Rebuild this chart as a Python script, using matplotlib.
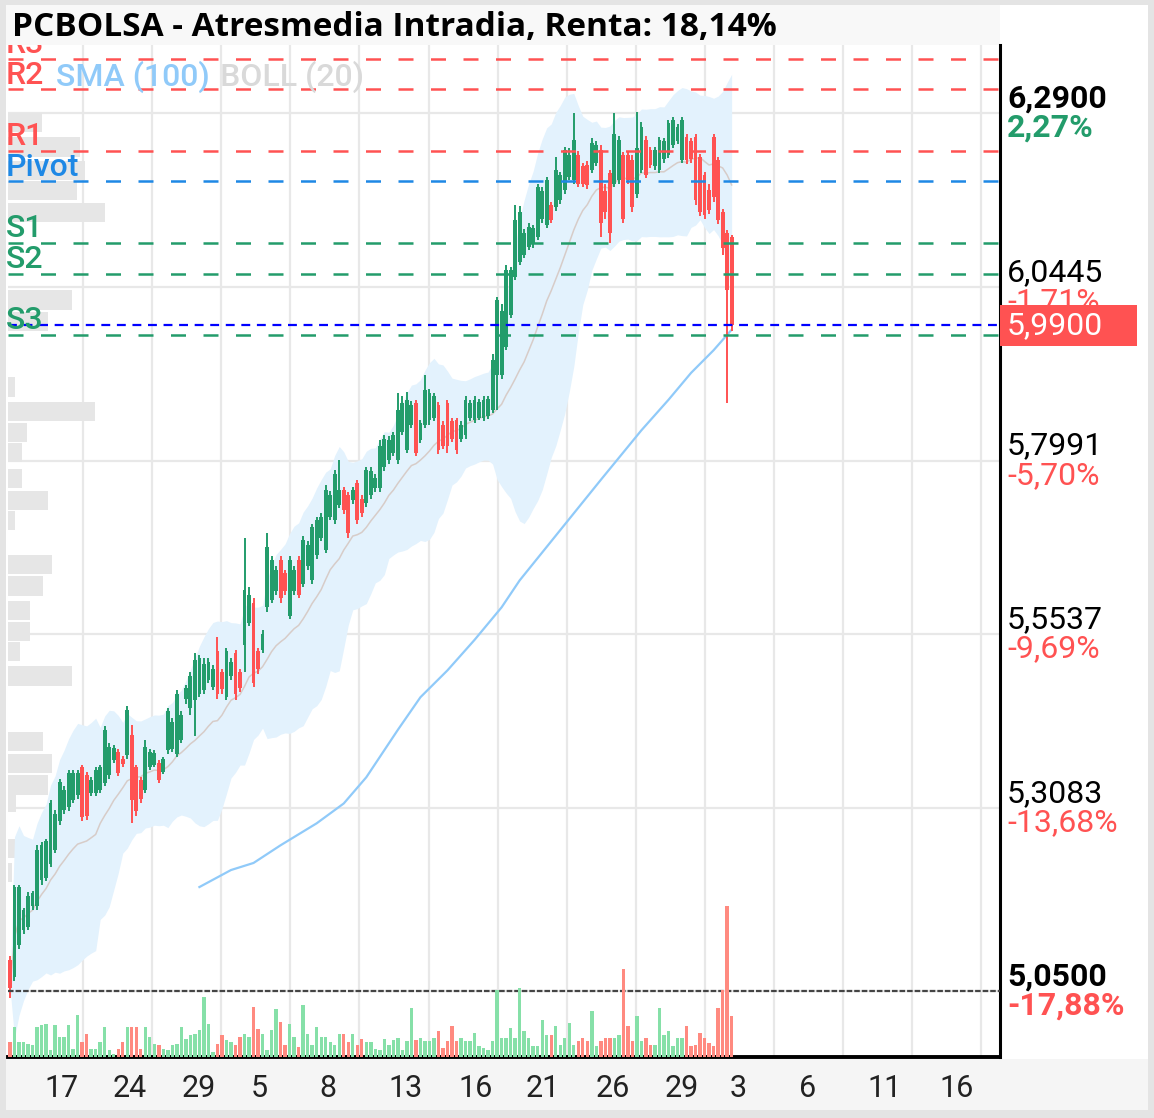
import numpy as np
import pandas as pd
import matplotlib
matplotlib.use('Agg')
import matplotlib.pyplot as plt
import matplotlib.transforms as mtransforms
from matplotlib.patches import Rectangle

plt.rcParams['font.family'] = ['Roboto', 'DejaVu Sans']

# ---- data ----
opens = [5.094, 5.070, 5.115, 5.136, 5.140, 5.170, 5.170, 5.207, 5.210, 5.230,
         5.250, 5.290, 5.306, 5.310, 5.320, 5.327, 5.366, 5.355, 5.330, 5.330,
         5.334, 5.344, 5.355, 5.376, 5.388, 5.378, 5.383, 5.412, 5.366, 5.348,
         5.334, 5.366, 5.370, 5.372, 5.360, 5.390, 5.392, 5.385, 5.405, 5.462,
         5.450, 5.461, 5.470, 5.475, 5.490, 5.480, 5.530, 5.500, 5.466, 5.495,
         5.527, 5.500, 5.539, 5.570, 5.598, 5.530, 5.532, 5.592, 5.602, 5.615,
         5.659, 5.640, 5.580, 5.615, 5.659, 5.625, 5.650, 5.630, 5.666, 5.690,
         5.673, 5.720, 5.715, 5.737, 5.758, 5.750, 5.743, 5.768, 5.745, 5.739,
         5.750, 5.760, 5.760, 5.790, 5.800, 5.810, 5.800, 5.840, 5.814, 5.850,
         5.880, 5.828, 5.850, 5.856, 5.860, 5.878, 5.850, 5.880, 5.855, 5.856,
         5.830, 5.835, 5.860, 5.856, 5.860, 5.859, 5.862, 5.871, 5.920, 5.920,
         5.960, 6.005, 6.058, 6.080, 6.090, 6.101, 6.105, 6.115, 6.140, 6.132,
         6.160, 6.157, 6.167, 6.181, 6.200, 6.195, 6.231, 6.215, 6.217, 6.209,
         6.220, 6.238, 6.180, 6.205, 6.190, 6.195, 6.230, 6.231, 6.224, 6.175,
         6.209, 6.252, 6.238, 6.215, 6.209, 6.225, 6.231, 6.245, 6.250, 6.224,
         6.256, 6.250, 6.256, 6.228, 6.202, 6.181, 6.256, 6.224, 6.150, 6.120,
         6.115]
highs = [5.100, 5.200, 5.200, 5.168, 5.190, 5.192, 5.256, 5.260, 5.265, 5.320,
         5.306, 5.350, 5.340, 5.362, 5.362, 5.362, 5.370, 5.360, 5.352, 5.366,
         5.370, 5.425, 5.400, 5.398, 5.392, 5.382, 5.452, 5.426, 5.370, 5.352,
         5.404, 5.392, 5.390, 5.376, 5.380, 5.450, 5.436, 5.475, 5.446, 5.482,
         5.500, 5.528, 5.525, 5.520, 5.520, 5.510, 5.550, 5.505, 5.535, 5.520,
         5.532, 5.505, 5.690, 5.620, 5.605, 5.535, 5.560, 5.697, 5.665, 5.650,
         5.665, 5.645, 5.665, 5.650, 5.665, 5.692, 5.686, 5.710, 5.720, 5.725,
         5.765, 5.756, 5.786, 5.800, 5.762, 5.755, 5.762, 5.772, 5.750, 5.790,
         5.790, 5.780, 5.828, 5.836, 5.834, 5.840, 5.895, 5.890, 5.896, 5.884,
         5.885, 5.856, 5.920, 5.900, 5.895, 5.882, 5.855, 5.885, 5.860, 5.860,
         5.855, 5.890, 5.885, 5.890, 5.886, 5.890, 5.890, 5.950, 6.030, 6.020,
         6.075, 6.072, 6.160, 6.158, 6.126, 6.135, 6.132, 6.190, 6.186, 6.200,
         6.165, 6.228, 6.206, 6.242, 6.240, 6.290, 6.236, 6.220, 6.222, 6.255,
         6.250, 6.245, 6.190, 6.210, 6.290, 6.258, 6.235, 6.236, 6.230, 6.292,
         6.277, 6.258, 6.242, 6.242, 6.256, 6.255, 6.280, 6.284, 6.275, 6.284,
         6.260, 6.255, 6.260, 6.232, 6.206, 6.190, 6.260, 6.228, 6.155, 6.125,
         6.118]
lows = [5.040, 5.065, 5.110, 5.130, 5.136, 5.165, 5.164, 5.200, 5.205, 5.225,
        5.245, 5.285, 5.300, 5.305, 5.315, 5.322, 5.290, 5.292, 5.326, 5.326,
        5.330, 5.340, 5.350, 5.372, 5.354, 5.366, 5.378, 5.287, 5.298, 5.316,
        5.330, 5.362, 5.366, 5.344, 5.356, 5.385, 5.388, 5.380, 5.400, 5.455,
        5.440, 5.410, 5.465, 5.470, 5.485, 5.475, 5.462, 5.470, 5.461, 5.490,
        5.461, 5.472, 5.500, 5.565, 5.480, 5.498, 5.528, 5.585, 5.598, 5.610,
        5.598, 5.610, 5.575, 5.610, 5.605, 5.620, 5.645, 5.625, 5.660, 5.685,
        5.668, 5.715, 5.710, 5.732, 5.724, 5.690, 5.738, 5.710, 5.720, 5.734,
        5.745, 5.755, 5.755, 5.785, 5.795, 5.805, 5.795, 5.835, 5.810, 5.845,
        5.805, 5.824, 5.845, 5.850, 5.855, 5.808, 5.815, 5.810, 5.826, 5.808,
        5.825, 5.830, 5.855, 5.852, 5.856, 5.855, 5.858, 5.866, 5.871, 5.915,
        5.955, 6.000, 6.054, 6.076, 6.085, 6.097, 6.100, 6.110, 6.135, 6.128,
        6.135, 6.152, 6.162, 6.176, 6.195, 6.190, 6.185, 6.185, 6.183, 6.205,
        6.215, 6.115, 6.140, 6.106, 6.186, 6.190, 6.135, 6.190, 6.150, 6.170,
        6.205, 6.198, 6.212, 6.210, 6.205, 6.220, 6.226, 6.240, 6.246, 6.220,
        6.218, 6.220, 6.160, 6.145, 6.140, 6.148, 6.165, 6.133, 6.090, 5.880,
        5.982]
closes = [5.055, 5.197, 5.197, 5.164, 5.185, 5.188, 5.250, 5.256, 5.262, 5.315,
          5.300, 5.345, 5.334, 5.358, 5.358, 5.358, 5.296, 5.298, 5.348, 5.362,
          5.366, 5.419, 5.395, 5.393, 5.358, 5.371, 5.447, 5.320, 5.305, 5.322,
          5.395, 5.388, 5.386, 5.348, 5.378, 5.445, 5.430, 5.470, 5.440, 5.478,
          5.495, 5.517, 5.520, 5.512, 5.515, 5.505, 5.470, 5.476, 5.530, 5.515,
          5.470, 5.478, 5.616, 5.610, 5.485, 5.505, 5.555, 5.677, 5.659, 5.645,
          5.605, 5.615, 5.659, 5.645, 5.610, 5.687, 5.680, 5.705, 5.715, 5.720,
          5.758, 5.750, 5.780, 5.758, 5.729, 5.697, 5.758, 5.715, 5.725, 5.786,
          5.785, 5.775, 5.820, 5.830, 5.828, 5.835, 5.871, 5.880, 5.885, 5.878,
          5.810, 5.852, 5.899, 5.895, 5.890, 5.814, 5.820, 5.820, 5.830, 5.814,
          5.850, 5.885, 5.880, 5.885, 5.882, 5.885, 5.886, 5.941, 6.026, 6.010,
          6.068, 6.068, 6.139, 6.150, 6.120, 6.129, 6.128, 6.185, 6.180, 6.195,
          6.139, 6.209, 6.202, 6.238, 6.230, 6.252, 6.190, 6.190, 6.188, 6.248,
          6.245, 6.135, 6.150, 6.120, 6.260, 6.252, 6.140, 6.195, 6.157, 6.240,
          6.270, 6.202, 6.216, 6.238, 6.252, 6.250, 6.276, 6.280, 6.270, 6.280,
          6.224, 6.225, 6.167, 6.150, 6.146, 6.153, 6.171, 6.139, 6.100, 6.040,
          5.990]
volume = [15, 30, 15, 15, 13, 12, 30, 32, 33, 7,
          32, 20, 20, 32, 8, 42, 15, 23, 8, 8,
          15, 30, 7, 3, 8, 15, 30, 30, 30, 8,
          30, 20, 13, 12, 8, 7, 12, 13, 30, 18,
          22, 23, 27, 60, 33, 5, 13, 22, 17, 15,
          12, 20, 23, 20, 50, 28, 23, 7, 27, 48,
          35, 12, 33, 20, 10, 52, 23, 12, 30, 20,
          20, 15, 12, 23, 23, 15, 23, 12, 18, 15,
          15, 8, 7, 18, 12,
          17, 19, 7, 16, 49, 17, 19, 16, 16, 19,
          26, 9, 16, 31, 16, 19, 16, 16, 24, 11,
          9, 7, 16, 67, 19, 19, 29, 19, 69, 26,
          19, 11, 11, 37, 22, 22, 31, 12, 19, 34,
          12, 16, 19, 16, 46, 11, 16, 19, 19, 19,
          22, 88, 31, 16, 41, 16, 19, 12, 12, 49,
          22, 26, 11, 19, 19, 31, 11, 12, 24, 19,
          14, 11, 49, 67, 151, 41]

# SMA(100), read at some candles
sma_idx = [42, 49, 54, 60, 68, 74, 79, 86, 91, 97, 103, 109, 113, 122, 131, 140, 146, 151, 156, 160]
sma_val = [5.197, 5.221, 5.231, 5.256, 5.287, 5.315, 5.352, 5.419, 5.465, 5.503,
           5.546, 5.592, 5.630, 5.701, 5.772, 5.842, 5.885, 5.923, 5.955, 5.984]

# pivot levels
pivot_names = ['R3', 'R2', 'R1', 'Pivot', 'S1', 'S2', 'S3']
pivot_levels = [6.3667, 6.3233, 6.2367, 6.1933, 6.1067, 6.0633, 5.9767]

# volume profile (price, volume)
prof_price = [6.276, 6.242, 6.209, 6.181, 6.150, 6.026, 5.996, 5.903, 5.868, 5.839,
              5.810, 5.774, 5.743, 5.715, 5.652, 5.622, 5.588, 5.558, 5.529, 5.495,
              5.402, 5.372, 5.341, 5.317, 5.252, 5.218]
prof_vol = [34, 72, 77, 69, 97, 64, 40, 7, 87, 19,
            14, 14, 40, 7, 44, 35, 22, 22, 12, 64,
            35, 44, 40, 8, 7, 4]

# right scale
scale_prices = [6.2900, 6.0445, 5.7991, 5.5537, 5.3083, 5.0500]
scale_txt = ['6,2900', '6,0445', '5,7991', '5,5537', '5,3083', '5,0500']
scale_pct = ['2,27%', '-1,71%', '-5,70%', '-9,69%', '-13,68%', '-17,88%']
base_price = 5.05
last_price = 5.99

day_labels = ['17', '24', '29', '5', '8', '13', '16', '21', '26', '29', '3', '6', '11', '16']
day_pos = [11.5, 26.6, 41.9, 55.2, 70.5, 87.8, 103.3, 118.2, 133.7, 149.0, 161.4, 176.9, 194.0, 209.8]

title = 'PCBOLSA - Atresmedia Intradia, Renta: 18,14%'

GREEN = '#239c6b'
RED = '#ff5252'

# ---- figure ----
W, H = 1154, 1118
fig = plt.figure(figsize=(W / 100, H / 100), dpi=100)
fig.patch.set_facecolor('white')


def fig_rect(x0, y0, x1, y1, color, z=-5):
    fig.add_artist(Rectangle((x0 / W, 1 - y1 / H), (x1 - x0) / W, (y1 - y0) / H,
                             transform=fig.transFigure, color=color, lw=0, zorder=z))


fig_rect(0, 0, 6, H, '#e4e4e4')
fig_rect(0, 0, W, 5, '#e4e4e4')
fig_rect(1148, 0, W, H, '#e4e4e4')
fig_rect(0, 1110, W, H, '#e4e4e4')
fig_rect(6, 5, 1000, 45, '#f8f8f8')
fig_rect(6, 1059, 1148, 1110, '#f5f5f5')

ax = fig.add_axes([8 / W, 61 / H, 992 / W, 1012 / H])
axv = ax.twinx()

n = len(closes)
x = np.arange(n)
o = np.array(opens)
c = np.array(closes)
up = c >= o
colors = np.where(up, GREEN, RED)

ax.set_xlim(-0.44, 219.5)
ax.set_ylim(4.957, 6.386)

# grid
for p in scale_prices:
    ax.axhline(p, color='#e8e8e8', lw=1.6, zorder=0)
for gx in np.arange(16.2, 219, 15.32):
    ax.axvline(gx, color='#e8e8e8', lw=1.6, zorder=0)

# volume profile
trans = mtransforms.blended_transform_factory(ax.transAxes, ax.transData)
for p, v in zip(prof_price, prof_vol):
    ax.add_patch(Rectangle((0, p - 0.0135), v / 992, 0.027, transform=trans,
                           color='#e6e6e6', lw=0, zorder=0.5))

# bollinger (20)
cs = pd.Series(closes)
boll_mid = cs.rolling(20, min_periods=1).mean()
boll_std = cs.rolling(20, min_periods=1).std(ddof=0)
ax.fill_between(x, boll_mid - 2 * boll_std, boll_mid + 2 * boll_std,
                color='#e3f2fd', lw=0, zorder=1)
ax.plot(x, boll_mid, color='#d7ccc8', lw=1.1, zorder=2)

# sma (100)
ax.plot(sma_idx, sma_val, color='#90caf9', lw=1.6, zorder=3)

# candles
ax.vlines(x, lows, highs, colors=colors, lw=1.4, zorder=4)
ax.bar(x, np.abs(c - o), bottom=np.minimum(o, c), width=0.85, color=colors, lw=0, zorder=4)

# pivot lines
piv_colors = [RED, RED, RED, '#1e88e5', GREEN, GREEN, GREEN]
for name, lev, col in zip(pivot_names, pivot_levels, piv_colors):
    ax.axhline(lev, color=col, lw=1.8, dashes=(6, 7), zorder=5)
    ax.annotate(name, xy=(0, lev), xycoords=trans, xytext=(-1.5, 4), textcoords='offset points',
                ha='left', va='baseline', fontsize=23, fontweight='medium', color=col, zorder=6,
                annotation_clip=False, clip_on=(name == 'R3'))

ax.axhline(last_price, color='#0000ff', lw=1.6, dashes=(4, 3), zorder=5)
ax.axhline(base_price, color='#444444', lw=1.6, dashes=(2.5, 0.9), zorder=5)

# legend text
fig.text(56 / W, 1 - 77 / H, 'SMA (100)', fontsize=23, fontweight='medium', color='#90caf9',
         va='center', ha='left')
fig.text(220 / W, 1 - 77 / H, 'BOLL (20)', fontsize=23, fontweight='medium', color='#d9d9d9',
         va='center', ha='left')

# volume
vol_colors = np.where(up, '#86e0a8', '#ff8a80')
axv.bar(x, volume, width=0.75, color=vol_colors, lw=0, zorder=2)
axv.set_ylim(0, 1012)
axv.set_yticks([])
for s in axv.spines.values():
    s.set_visible(False)

# right scale labels
for i, (p, t, pc) in enumerate(zip(scale_prices, scale_txt, scale_pct)):
    bold = i == 0 or i == len(scale_prices) - 1
    pc_col = GREEN if not pc.startswith('-') else RED
    ax.annotate(t, xy=(1, p), xycoords=trans, xytext=(5, 10.5), textcoords='offset points',
                ha='left', va='center', fontsize=23, color='black',
                fontweight='bold' if bold else 'normal', annotation_clip=False)
    ax.annotate(pc, xy=(1, p), xycoords=trans, xytext=(5, -10.5), textcoords='offset points',
                ha='left', va='center', fontsize=23, color=pc_col,
                fontweight='bold' if bold else 'normal', annotation_clip=False)

# last price tag
box_h = 41 / 708
ax.add_patch(Rectangle((1.0, last_price - box_h / 2), 137 / 992, box_h, transform=trans,
                       color=RED, lw=0, zorder=8, clip_on=False))
ax.annotate('5,9900', xy=(1, last_price), xycoords=trans, xytext=(5, 0), textcoords='offset points',
            ha='left', va='center', fontsize=23, color='white', zorder=9, annotation_clip=False)

# axes cosmetics
ax.set_yticks([])
ax.set_xticks(day_pos)
ax.set_xticklabels(day_labels, fontsize=22, color='#222222')
ax.tick_params(axis='x', length=0, pad=12)
ax.spines['top'].set_visible(False)
ax.spines['left'].set_visible(False)
ax.spines['right'].set_color('black')
ax.spines['right'].set_linewidth(2.2)
ax.spines['bottom'].set_color('black')
ax.spines['bottom'].set_linewidth(2.8)

fig.text(12 / W, 1 - 28 / H, title, fontsize=24, fontweight='bold', family=['Open Sans', 'DejaVu Sans'],
         va='center', ha='left', color='black')

fig.savefig('out.png', dpi=100)
